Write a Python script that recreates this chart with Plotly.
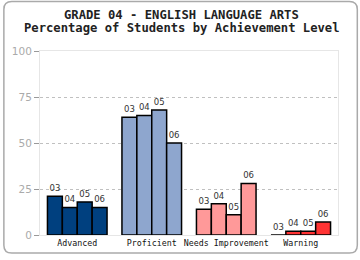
import plotly.graph_objects as go

categories = ["Advanced", "Proficient", "Needs Improvement", "Warning"]
years = ["03", "04", "05", "06"]
values = {
    "03": [21, 64, 14, 0],
    "04": [15, 65, 17, 2],
    "05": [18, 68, 11, 2],
    "06": [15, 50, 28, 7],
}
cat_colors = ["#00407F", "#8EA6CE", "#FF9999", "#FF3333"]
y_ticks = [0, 25, 50, 75, 100]
title_lines = ["GRADE 04 - ENGLISH LANGUAGE ARTS", "Percentage of Students by Achievement Level"]

W, H = 360, 260
ML, MR, MT, MB = 37, 22, 51, 21

fig = go.Figure()
for yr in years:
    fig.add_trace(go.Bar(
        x=categories, y=values[yr], name=yr,
        text=[yr] * len(categories), textposition="outside",
        textfont=dict(family="DejaVu Sans", size=8.5, color="#333333"),
        cliponaxis=False,
        marker=dict(color=cat_colors, line=dict(color="#000000", width=1.5)),
        showlegend=False,
    ))

pw = W - ML - MR
ph = H - MT - MB
def px(x):
    return (x - ML) / pw
def py(y):
    return (H - MB - y) / ph

x0, x1, y0, y1, r = 0.5, 357.5, 0.5, 257.5, 8
path = (f"M {px(x0+r)},{py(y0)} L {px(x1-r)},{py(y0)} Q {px(x1)},{py(y0)} {px(x1)},{py(y0+r)} "
        f"L {px(x1)},{py(y1-r)} Q {px(x1)},{py(y1)} {px(x1-r)},{py(y1)} "
        f"L {px(x0+r)},{py(y1)} Q {px(x0)},{py(y1)} {px(x0)},{py(y1-r)} "
        f"L {px(x0)},{py(y0+r)} Q {px(x0)},{py(y0)} {px(x0+r)},{py(y0)} Z")

annotations = []
for i, (line, yc) in enumerate(zip(title_lines, [14, 27])):
    annotations.append(dict(
        text=f"<b>{line}</b>", xref="paper", yref="paper",
        x=px(180), y=py(yc), xanchor="center", yanchor="middle",
        showarrow=False,
        font=dict(family="DejaVu Sans Mono", size=12.2, color="#222222"),
    ))

fig.update_layout(
    width=W, height=H,
    margin=dict(l=ML, r=MR, t=MT, b=MB),
    paper_bgcolor="white", plot_bgcolor="white",
    barmode="group", bargap=0.2, bargroupgap=0,
    xaxis=dict(
        showline=True, linecolor="#e6e6e6", linewidth=1, mirror=True,
        showgrid=False, ticks="",
        tickfont=dict(family="DejaVu Sans Mono", size=8.3, color="#111111"),
    ),
    yaxis=dict(
        range=[0, 100], tickvals=y_ticks, ticktext=[str(v) for v in y_ticks],
        showline=True, linecolor="#e6e6e6", linewidth=1, mirror=True,
        showgrid=True, gridcolor="#c0c0c0", griddash="dot", gridwidth=1,
        zeroline=False,
        ticks="outside", ticklen=5, tickcolor="#999999",
        tickfont=dict(family="DejaVu Sans", size=10.5, color="#aaaaaa"),
    ),
    annotations=annotations,
    shapes=[dict(type="path", xref="paper", yref="paper", path=path,
                 line=dict(color="#aaaaaa", width=1.5), fillcolor="rgba(0,0,0,0)",
                 layer="above")],
)

fig.write_html("out.html")
